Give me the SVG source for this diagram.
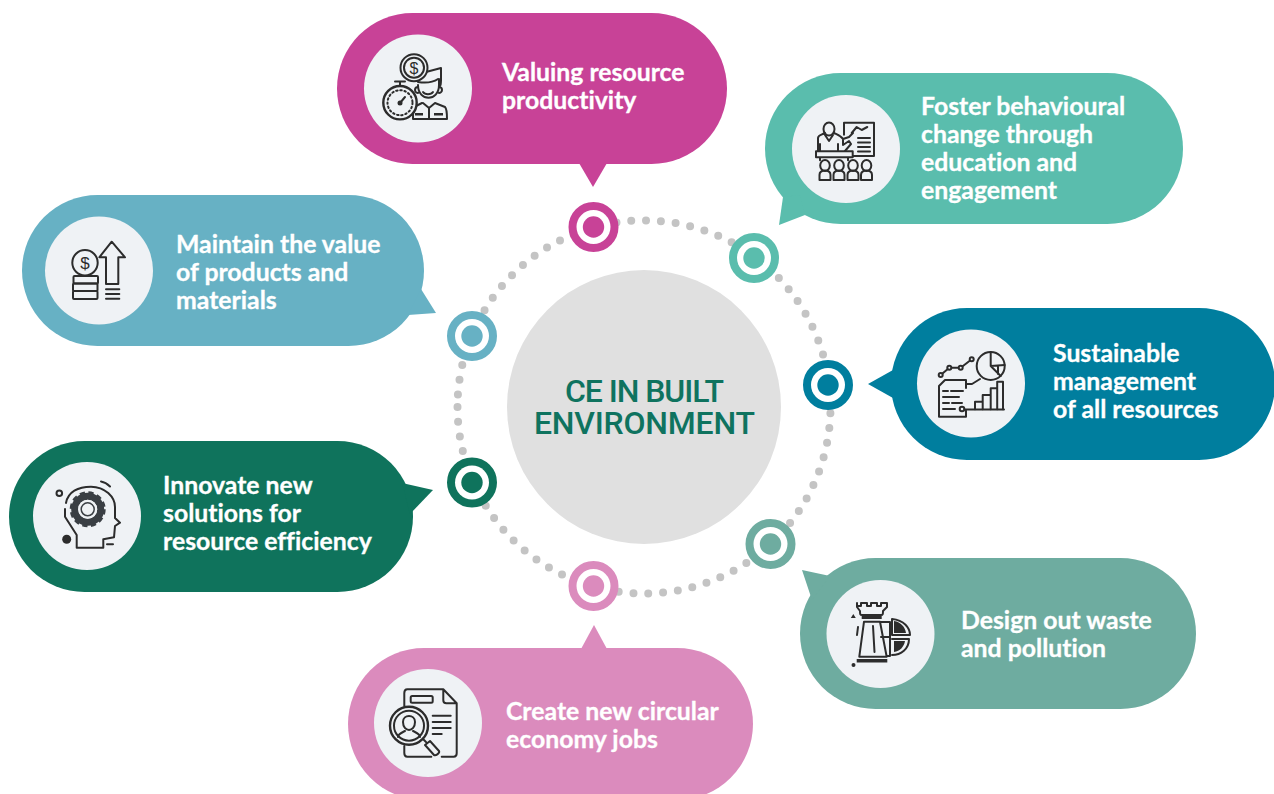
<svg xmlns="http://www.w3.org/2000/svg" width="1274" height="794" viewBox="0 0 1274 794">
<style>
.t{font-family:"Lato","Liberation Sans",sans-serif;font-weight:700;font-size:24.8px;fill:#fff;stroke:#fff;stroke-width:.3px;font-variant-ligatures:none}
.c{font-family:"Roboto","Liberation Sans",sans-serif;font-weight:500;font-size:32px;fill:#0f735f;text-anchor:middle}
.ib{fill:#eff2f5}
.i{fill:none;stroke:#2c2c2c;stroke-width:2;stroke-linejoin:round;stroke-linecap:round}
.f{fill:#2c2c2c;stroke:none}
.d{font-family:"Liberation Sans",sans-serif;font-size:17px;fill:#2c2c2c;text-anchor:middle}
</style>
<rect width="1274" height="794" fill="#fff"/>
<g id="connectors"><path d="M457.500 407A186.500 186.500 0 1 0 830.500 407A186.500 186.500 0 1 0 457.500 407" fill="none" stroke="#c4c4c4" stroke-width="8" stroke-linecap="round" stroke-dasharray="0 14.86"/></g>
<g id="center"><circle cx="644" cy="407" r="137" fill="#e0e0e0"/><text class="c"><tspan x="644.500" y="402" textLength="159">CE IN BUILT</tspan><tspan x="644.500" y="434" textLength="221">ENVIRONMENT</tspan></text></g>

<g id="node-productivity" fill="#c84297">
<rect x="337" y="13" width="390" height="151" rx="75.500"/><polygon points="579,163 607,163 593,187"/>
<circle cx="593.500" cy="227" r="21" style="stroke:#c84297;stroke-width:8"/><circle cx="593.500" cy="227" r="17" fill="#fff"/><circle cx="593.500" cy="227" r="10.700"/>
<circle class="ib" cx="418" cy="88.500" r="54"/>
<g>
<path class="i" d="M418 82c-2-7 3-10 8-10l15-4v12c0 3 0 5-1 6M418 82c6 1 14 1 20-3M418 87c-2 0-3 1-3 3s2 3 3 3M439 87c2 0 3 1 3 3s-2 3-3 3M418 85c0 17 21 17 21 0v-6M423 92c2 3 8 3 10 0M422 103l-8 4c-1 2-1 8-1 12h34c0-6 0-10-2-12l-10-4-6 5-6-5"/><path class="i" d="M429 108v11"/><path class="f" d="M415 113h8v2.500h-8zM434 113h9v2.500h-9z"/>
<circle class="i" cx="414" cy="67.700" r="13.500" style="fill:#eff2f5"/><circle class="i" cx="414" cy="67.700" r="10"/><text class="d" x="414" y="73.500" style="font-size:16px">$</text>
<circle class="i" cx="400" cy="102.700" r="16.700" style="fill:#eff2f5;stroke-width:2.400"/><circle class="i" cx="400" cy="102.700" r="12.500" stroke-dasharray="1.500 2.700"/><path class="i" d="M395 81.500h10M400 82v4M400 103l5-6"/><circle class="f" cx="400" cy="103" r="2.500"/>
</g>
<text class="t" x="502" y="81">Valuing resource</text><text class="t" x="502" y="109">productivity</text>
</g>

<g id="node-behaviour" fill="#5abdad">
<rect x="765" y="73" width="418" height="151" rx="75.500"/><polygon points="783,197 779,225 805,215 800,195"/>
<circle cx="754" cy="258" r="21" style="stroke:#5abdad;stroke-width:8"/><circle cx="754" cy="258" r="17" fill="#fff"/><circle cx="754" cy="258" r="10.700"/>
<circle class="ib" cx="846" cy="149" r="54"/>
<g><path class="i" d="M844 122.700h30V156h-21M844 122.700v12M851.700 133l5-6 5 3 5.600-3M858 138h12M858 142.500h12M858 147h12M858 151.500h12"/>
<ellipse class="i" cx="829" cy="129" rx="5.500" ry="6.500"/><path class="i" d="M818 151v-13c0-3 3-3 7-5M834 133c4 2 7 3 9 6l6-2 4-4M820 151v-7M838 151v-7M843 140v5l6-4 2 3-6 7M825 135l4 6 4-6"/>
<path class="i" d="M816 151.300h36.700v6H816zM820 157.300v3M848 157.300v3"/>
<ellipse class="i" cx="825" cy="165.500" rx="4.800" ry="5.500"/><path class="i" d="M819.500 180v-5c0-3 2-4.500 5.500-4.500s5.500 1.500 5.500 4.500v5z"/>
<ellipse class="i" cx="839" cy="165.500" rx="4.800" ry="5.500"/><path class="i" d="M833.500 180v-5c0-3 2-4.500 5.500-4.500s5.500 1.500 5.500 4.500v5z"/>
<ellipse class="i" cx="853" cy="165.500" rx="4.800" ry="5.500"/><path class="i" d="M847.500 180v-5c0-3 2-4.500 5.500-4.500s5.500 1.500 5.500 4.500v5z"/>
<ellipse class="i" cx="866.500" cy="165.500" rx="4.800" ry="5.500"/><path class="i" d="M861 180v-5c0-3 2-4.500 5.500-4.500s5.500 1.500 5.500 4.500v5z"/></g>
<text class="t" x="921" y="115">Foster behavioural</text><text class="t" x="921" y="143">change through</text><text class="t" x="921" y="171">education and</text><text class="t" x="921" y="199">engagement</text>
</g>

<g id="node-management" fill="#007e9e">
<rect x="891" y="308" width="384" height="152" rx="76"/><polygon points="868,384 893,370 893,398"/>
<circle cx="828" cy="385" r="21" style="stroke:#007e9e;stroke-width:8"/><circle cx="828" cy="385" r="17" fill="#fff"/><circle cx="828" cy="385" r="10.700"/>
<circle class="ib" cx="971" cy="383.500" r="54"/>
<g><circle class="i" cx="990.700" cy="366" r="14"/><path class="i" d="M990.700 352v14l14-1M990.700 366l10 10M998 366v8"/>
<path class="i" d="M940.700 375l8.600-7.300h11.400l11-8.400"/><circle class="i" cx="940.700" cy="375" r="2" style="fill:#eff2f5"/><circle class="i" cx="949.300" cy="367.700" r="2" style="fill:#eff2f5"/><circle class="i" cx="960.700" cy="367.700" r="2" style="fill:#eff2f5"/><circle class="i" cx="971.700" cy="359.300" r="2" style="fill:#eff2f5"/>
<path class="i" d="M945 380h21v8M945 380l-6 6v30.700h27V411M943 391h5M951 391h12M943 397h16M943 403h6M952 403h10M943 409h12M966 384h6l8-5M962 409.500h42"/>
<circle class="i" cx="962" cy="409" r="2.300" style="fill:#eff2f5"/>
<path class="i" d="M975 409.300v-7.600h7.700v7.600M982.700 401.700v-6.700h8v14.300M990.700 395V388.300h6.500v21M997.200 388.300V381.700h5.800v27.600"/></g>
<text class="t" x="1053" y="362">Sustainable</text><text class="t" x="1053" y="390">management</text><text class="t" x="1053" y="418">of all resources</text>
</g>

<g id="node-waste" fill="#6eaca0">
<rect x="800" y="558" width="396" height="151" rx="75.500"/><polygon points="802,570 830,576 812,600"/>
<circle cx="770.500" cy="544" r="21" style="stroke:#6eaca0;stroke-width:8"/><circle cx="770.500" cy="544" r="17" fill="#fff"/><circle cx="770.500" cy="544" r="10.700"/>
<circle class="ib" cx="880.500" cy="634" r="54"/>
<g><path class="i" d="M857 603v4l3 4c0 3 0 4 2 4h19c2 0 2-1 2-4l4-4v-4h-6v3h-4v-3h-6v3h-4v-3h-6v3h-4z"/><path class="f" d="M861.700 616h20v3h-20zM856.700 659h30.600v3.500h-30.600z"/>
<path class="i" d="M864 621.700h16l6.700 35h-27.400zM873 626l1.500 26M858 627l-1 8M881 622h9v34h-3M881 637h9"/>
<path class="i" d="M892 619c12 1 18 9 18 16h-18zM892 639h17c0 10-8 16-17 16"/><path class="f" d="M894 621c7 1 11 6 12 12h-12zM894 641h11c-1 6-5 10-11 11z"/>
<path class="f" d="M853.300 614l2.500 4h-5zM851.500 665a2 2 0 1 0 4 0a2 2 0 1 0-4 0z"/></g>
<text class="t" x="961" y="629">Design out waste</text><text class="t" x="961" y="657">and pollution</text>
</g>

<g id="node-jobs" fill="#db8bbd">
<rect x="348" y="648" width="405" height="152" rx="76"/><polygon points="594,625 581,649 607,649"/>
<circle cx="593.500" cy="586" r="21" style="stroke:#db8bbd;stroke-width:8"/><circle cx="593.500" cy="586" r="17" fill="#fff"/><circle cx="593.500" cy="586" r="10.700"/>
<circle class="ib" cx="428" cy="723" r="54"/>
<g><path class="i" d="M404.300 706v-13c0-2 1-3.700 3-3.700h36l13.400 14v50c0 2-1 3.400-3 3.400h-12M443.300 689.300v11c0 2 1 3 3 3h10.400M404.300 746v7c0 2 1 3.700 3 3.700h24"/><rect class="i" x="410.700" y="696" width="22" height="6.700" rx="1.500"/>
<path class="i" d="M432.700 715.700h18M432.700 722h18M432.700 728h18M432.700 734h9"/>
<circle class="i" cx="409" cy="725.700" r="19" style="fill:#eff2f5;stroke-width:2.400"/><circle class="i" cx="409" cy="725.700" r="15"/><path class="i" d="M403 722c0-8 12-8 12 0c0 5-3 8-6 8s-6-3-6-8zM398 737c0-3 3-4 7-6M420 737c0-3-3-4-7-6M423 739l3 3M425 745l5-4 9 10c1 2-3 5-5 4z"/></g>
<text class="t" x="506" y="720">Create new circular</text><text class="t" x="506" y="748">economy jobs</text>
</g>

<g id="node-innovate" fill="#0f735c">
<rect x="9" y="441" width="404" height="151" rx="75.500"/><polygon points="402,483 433,490 410,514"/>
<circle cx="472" cy="482.500" r="21" style="stroke:#0f735c;stroke-width:8"/><circle cx="472" cy="482.500" r="17" fill="#fff"/><circle cx="472" cy="482.500" r="10.700"/>
<circle class="ib" cx="87" cy="516" r="54"/>
<g><path class="i" d="M66 503C68 492 78 486.700 91 486.700C105 486.700 115 497 115 507V518L120 522.700L115 526L114 537.300L103.300 539.300V547.700H76.700V535L65 516.700V509"/>
<circle cx="87.700" cy="509.300" r="13" fill="none" stroke="#3a3f44" stroke-width="7"/><circle cx="87.700" cy="509.300" r="16" fill="none" stroke="#3a3f44" stroke-width="4" stroke-dasharray="5 3.400"/><circle cx="87.700" cy="509.300" r="9.500" fill="#eff2f5"/><circle cx="87.700" cy="509.300" r="6.500" fill="none" stroke="#3a3f44" stroke-width="1.500"/>
<circle class="i" cx="59.300" cy="493.300" r="2.800"/><circle class="f" cx="66.700" cy="539.300" r="4.500"/><path class="i" d="M101 481.500c3 .5 6 2 9 5M107 544.300h6"/></g>
<text class="t" x="163" y="494">Innovate new</text><text class="t" x="163" y="522">solutions for</text><text class="t" x="163" y="550">resource efficiency</text>
</g>

<g id="node-value" fill="#67b1c4">
<rect x="22" y="195" width="402" height="151" rx="75.500"/><polygon points="421,289 436,313 408,315"/>
<circle cx="472" cy="336" r="21" style="stroke:#67b1c4;stroke-width:8"/><circle cx="472" cy="336" r="17" fill="#fff"/><circle cx="472" cy="336" r="10.700"/>
<circle class="ib" cx="99" cy="270.500" r="54"/>
<g><circle class="i" cx="85" cy="262.700" r="12.700"/><text class="d" x="85" y="268.700">$</text>
<rect class="i" x="73.500" y="276" width="24.500" height="7.500" rx="1"/><rect class="i" x="73" y="283.500" width="24.500" height="7.500" rx="1"/><rect class="i" x="73" y="291" width="24.500" height="8" rx="1"/>
<path class="i" d="M111.700 241.700L125 257.300h-6.700V284h-12.300V257.300h-6.700zM106 289.300h13.300M106 294h13.300M106 298.700h13.300"/></g>
<text class="t" x="176" y="253">Maintain the value</text><text class="t" x="176" y="281">of products and</text><text class="t" x="176" y="309">materials</text>
</g>
</svg>
